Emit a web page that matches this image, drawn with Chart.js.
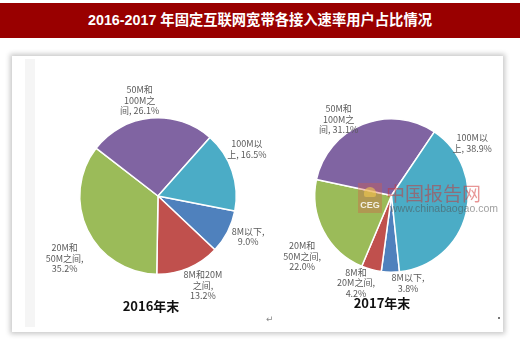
<!DOCTYPE html>
<html>
<head>
<meta charset="utf-8">
<script src="https://cdn.jsdelivr.net/npm/chart.js@4.4.1/dist/chart.umd.min.js"></script>
<style>
  body { margin: 0; width: 520px; height: 340px; background: #fff; position: relative; overflow: hidden; font-family: "Noto Sans CJK SC", sans-serif; }
  #bar { position: absolute; left: 0; top: 3px; width: 520px; height: 35px; background: #990000; }
  #bar span { position: absolute; left: 0; top: 5px; width: 520px; text-align: center; color: #fff; font: bold 14.3px "Liberation Sans", "Noto Sans CJK SC"; }
  #panel { position: absolute; left: 12px; top: 56px; width: 491px; height: 276px; background: #fff; box-shadow: 0 0 5px 2px rgba(0,0,0,0.22); }
  #band { position: absolute; left: 25px; top: 59px; width: 10px; height: 268px; background: #f5f5f5; }
  canvas { position: absolute; }
  .cap { position: absolute; width: 100px; text-align: center; font: bold 13px "Noto Sans CJK SC"; color: #111; }
  .wm { position: absolute; z-index: 5; }
</style>
</head>
<body>
<div id="bar"><span>2016-2017 年固定互联网宽带各接入速率用户占比情况</span></div>
<div id="panel"></div>
<div id="band"></div>
<canvas id="pie2016" width="258" height="268" style="left:14px;top:60px;width:258px;height:268px"></canvas>
<canvas id="pie2017" width="240" height="268" style="left:262px;top:60px;width:240px;height:268px"></canvas>
<div class="cap" style="left:101px;top:296px">2016年末</div>
<div class="cap" style="left:332px;top:293px">2017年末</div>

<!-- site watermark -->
<div class="wm" style="left:358px;top:183px;width:24px;height:30px;background:rgba(215,90,70,0.35)">
  <div style="position:absolute;left:0;top:17px;width:24px;text-align:center;font:bold 9px 'Liberation Sans';color:rgba(255,255,255,0.85)">CEG</div>
  <div style="position:absolute;left:6px;top:4px;width:12px;height:10px;border-radius:6px 6px 2px 2px;background:rgba(240,200,80,0.6)"></div>
</div>
<div class="wm" style="left:386px;top:179px;font:19px 'Noto Sans CJK SC';color:rgba(210,45,45,0.5)">中国报告网</div>
<div class="wm" style="left:390px;top:202px;font:10.5px 'Liberation Sans';color:rgba(80,80,80,0.55)">www.chinabaogao.com</div>
<div style="position:absolute;left:266px;top:314px;font:9px 'DejaVu Sans';color:#888">↵</div>
<div style="position:absolute;left:498px;top:317px;width:2px;height:2px;background:#777"></div>

<script>
// speed tiers, smallest first (pie starts with 8M以下)
var categories = ['8M以下', '8M和20M之间', '20M和50M之间', '50M和100M之间', '100M以上'];
var share2016 = [9.0, 13.2, 35.2, 26.1, 16.5];
var share2017 = [3.8, 4.2, 22.0, 31.1, 38.9];
var colors = ['#4F81BD', '#C0504D', '#9BBB59', '#8064A2', '#4BACC6'];

// how each data label wraps; {v} is replaced with the value
var wrap2016 = [['8M以下,', '{v}'], ['8M和20M', '之间,', '{v}'], ['20M和', '50M之间,', '{v}'], ['50M和', '100M之', '间, {v}'], ['100M以', '上, {v}']];
var wrap2017 = [['8M以下,', '{v}'], ['8M和', '20M之间,', '{v}'], ['20M和', '50M之间,', '{v}'], ['50M和', '100M之', '间, {v}'], ['100M以', '上, {v}']];

// label offsets (px) from the default spot outside each slice
var nudge2016 = [[1, -5], [6, -3], [-3, 19], [-9, 4], [-6, -15]];
var nudge2017 = [[18, -13], [-9, -10], [0, 14], [-15, 17], [-17, -77]];

var sliceLabels = {
  id: 'sliceLabels',
  afterDatasetsDraw: function(chart, args, opts) {
    var ctx = chart.ctx;
    var ds = chart.data.datasets[0];
    chart.getDatasetMeta(0).data.forEach(function(arc, i) {
      var mid = (arc.startAngle + arc.endAngle) / 2;
      var r = arc.outerRadius + opts.gap;
      var x = arc.x + Math.cos(mid) * r + opts.nudge[i][0];
      var y = arc.y + Math.sin(mid) * r + opts.nudge[i][1];
      var v = ds.data[i].toFixed(1) + '%';
      var lines = opts.lines[i].map(function(s) { return s.replace('{v}', v); });
      ctx.save();
      ctx.font = '9px "Noto Sans CJK SC"';
      ctx.fillStyle = '#5a5a5a';
      ctx.textAlign = 'center';
      ctx.textBaseline = 'middle';
      lines.forEach(function(s, k) {
        ctx.fillText(s, x, y + (k - (lines.length - 1) / 2) * 10.5);
      });
      ctx.restore();
    });
  }
};

function drawPie(id, values, rotation, padding, lines, nudge, gap) {
  return new Chart(document.getElementById(id), {
    type: 'pie',
    data: {
      labels: categories,
      datasets: [{
        data: values,
        backgroundColor: colors,
        borderColor: '#ffffff',
        borderWidth: 1.5
      }]
    },
    options: {
      responsive: false,
      animation: false,
      rotation: rotation,
      layout: { padding: padding },
      plugins: {
        legend: { display: false },
        tooltip: { enabled: false },
        sliceLabels: { gap: gap, lines: lines, nudge: nudge }
      }
    },
    plugins: [sliceLabels]
  });
}

drawPie('pie2016', share2016, 101, { left: 65, right: 35, top: 57, bottom: 53 }, wrap2016, nudge2016, 22);
drawPie('pie2017', share2017, 174, { left: 52, right: 33, top: 58, bottom: 55 }, wrap2017, nudge2017, 24);
</script>
</body>
</html>
